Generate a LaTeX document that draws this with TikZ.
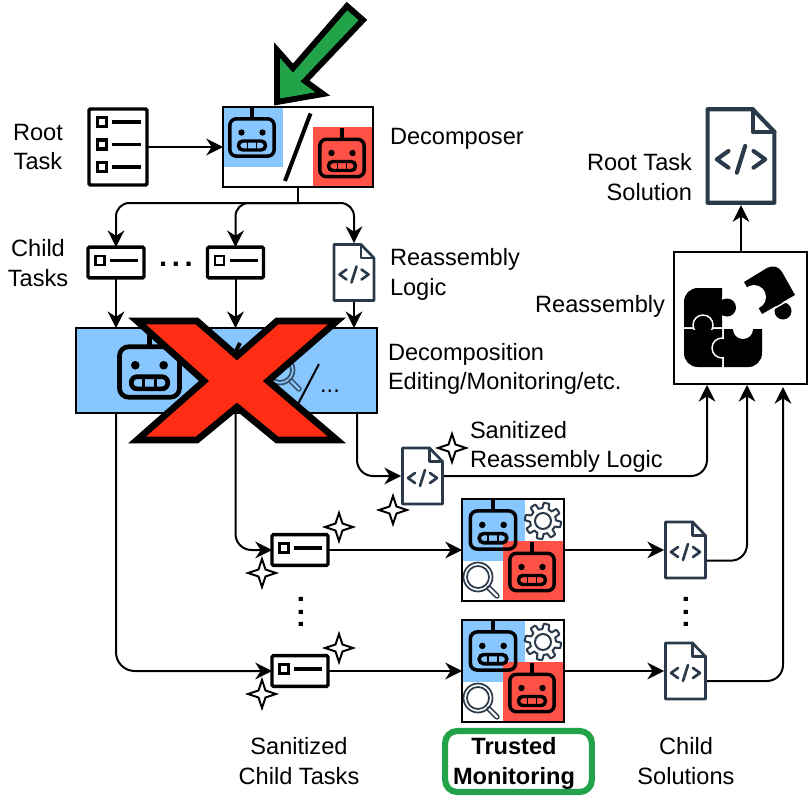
\documentclass[tikz,border=0pt]{standalone}
\usepackage{fontspec}
\setmainfont{Liberation Sans}
\usetikzlibrary{arrows.meta,calc}
\definecolor{bluebg}{HTML}{88C6FF}
\definecolor{redbg}{HTML}{FF5146}
\definecolor{slate}{HTML}{2B3A4A}
\definecolor{greenc}{HTML}{22A34A}
\definecolor{xred}{HTML}{FF2D14}
\tikzset{
  arr/.style={line width=1.5pt,-{Stealth[length=12.5pt,width=12.5pt,inset=4pt]},rounded corners=10pt},
  plain/.style={line width=1.5pt},
  txt/.style={font=\fontsize{17.7}{22}\selectfont,inner sep=0pt,outer sep=0pt},
  framebox/.style={draw=black,line width=1.6pt,inner sep=0pt,outer sep=0pt,rectangle},
  hollow/.style={rectangle,inner sep=0pt,outer sep=0pt},
  taskbox/.style={draw=black,line width=2.6pt,rounded corners=1pt,fill=white,inner sep=0pt,outer sep=0pt,rectangle,minimum width=42pt,minimum height=23pt},
  slashline/.style={line width=3pt,black},
  sparkle/.style={fill=white,draw=black,line width=1.5pt,miter limit=20},
  dotstxt/.style={font=\fontsize{22}{22}\selectfont\bfseries,inner sep=0pt,outer sep=0pt}
}
% robot: centre x, y, scale
\newcommand{\robotic}[3]{%
\begin{scope}[shift={(#1,#2)},scale=#3]
\pgfmathsetmacro{\lw}{2.6*#3}
\draw[black,line width=\lw pt,rounded corners=5pt*#3] (-22.2,-18.7) rectangle (22.2,18.7);
\draw[black,line width=\lw pt] (0,-19) -- (0,-30);
\fill[black] (-10.5,-5) circle (3.2) (10.5,-5) circle (3.2);
\draw[black,line width=\lw pt,rounded corners=3.2pt*#3] (-13.5,3.5) rectangle (13.5,12.5);
\draw[black,line width=0.55*\lw pt] (-4.5,3.5) -- (-4.5,12.5) (4.5,3.5) -- (4.5,12.5);
\end{scope}}
% code document: name, centre x, y, scale, stroke(pt)
\newcommand{\docicon}[5]{%
\node[hollow,minimum width=#4*32.2pt,minimum height=#4*44.2pt] (#1) at (#2,#3) {};
\begin{scope}[shift={(#2,#3)},scale=#4,line join=round,line cap=round]
\draw[slate,line width=#5 pt,fill=white] (-20,-28) -- (7,-28) -- (20,-14.5) -- (20,28) -- (-20,28) -- cycle;
\draw[slate,line width=#5 pt] (7,-28) -- (7,-14.5) -- (20,-14.5);
\draw[slate,line width=#5 pt] (-7.5,-3) -- (-14.5,2) -- (-7.5,7) (7.5,-3) -- (14.5,2) -- (7.5,7) (2.5,-6) -- (-2.5,10);
\end{scope}}
% small task card
\newcommand{\taskicon}[3]{%
\node[taskbox] (#1) at (#2,#3) {};
\begin{scope}[shift={(#2,#3)}]
\draw[black,line width=2.2pt] (-20.5,-6.5) rectangle (-11.5,2.5);
\draw[black,line width=2.6pt] (-6,-2) -- (22,-2);
\end{scope}}
% four pointed star
\newcommand{\starry}[2]{%
\draw[sparkle,shift={(#1,#2)}] (0,-14) -- (3.5,-3.5) -- (14,0) -- (3.5,3.5) -- (0,14) -- (-3.5,3.5) -- (-14,0) -- (-3.5,-3.5) -- cycle;}
% magnifier
\newcommand{\lens}[4]{%
\begin{scope}[shift={(#1,#2)}]
\draw[#3,line width=4pt,line cap=round] (11,11) -- (19,19);
\draw[#4,line width=1.8pt,line cap=round] (11,11) -- (19,19);
\draw[#3,line width=1.3pt] (0,0) circle (14.5) (0,0) circle (11);
\end{scope}}
% monitor panel
\newcommand{\monitorpanel}[3]{%
\begin{scope}[shift={(#2,#3)}]
\fill[bluebg] (-50,-51) rectangle (12,11);
\fill[redbg] (-10,-9) rectangle (51,51);
\draw[slate,line width=1.5pt] plot[samples=193,domain=0:360] ({30+(15.5+2.6*min(1,max(-1,3*sin(8*\x))))*cos(\x)},{-29+(15.5+2.6*min(1,max(-1,3*sin(8*\x))))*sin(\x)}) -- cycle;
\draw[slate,line width=1.5pt] (30,-29) circle (8);
\lens{-35}{27}{slate}{white}
\robotic{-20}{-20}{1.02}
\robotic{19}{22}{1}
\end{scope}
\node[framebox,minimum width=76.5pt,minimum height=76.5pt] (#1) at (#2,#3) {};}
\begin{document}
\begin{tikzpicture}[x=0.75pt,y=-0.75pt]
\useasboundingbox (0,0) rectangle (808,796);
\fill[white] (0,0) rectangle (808,796);

% root list
\node[draw=black,line width=2.6pt,rounded corners=1pt,inner sep=0pt,outer sep=0pt,rectangle,minimum width=43.5pt,minimum height=57pt] (root) at (118,147) {};
\foreach \yy in {122,144.5,167}{
  \draw[black,line width=2.3pt] (97.5,\yy-4.5) rectangle (106.5,\yy+4.5);
  \draw[black,line width=2.6pt] (112,\yy) -- (141,\yy);
}

% decomposer
\fill[bluebg] (223,107) rectangle (283,167);
\fill[redbg] (313,127) rectangle (373,187);
\robotic{252}{137.5}{1}
\robotic{342}{158}{1}
\draw[slashline] (310.5,113.5) -- (285,181);
\node[framebox,minimum width=112.5pt,minimum height=60pt] (dec) at (298,147) {};

% child tasks
\taskicon{t1}{116}{262.5}
\taskicon{t2}{235.5}{262.5}
\docicon{logic}{354}{272.5}{1}{2}

% decomposition editing box
\node[rectangle,fill=bluebg,inner sep=0pt,outer sep=0pt,minimum width=226pt,minimum height=63.5pt] (mboxfill) at (226.5,370.5) {};
\robotic{149.5}{372}{1.35}
\draw[slashline] (240,343) -- (236,351);
\lens{280}{370}{slate!85!bluebg}{bluebg}
\draw[black,line width=1.5pt] (319,364) -- (298,404);
\node[txt,anchor=base] (mdots) at (330,392) {...};
\node[framebox,line width=1.9pt,minimum width=226pt,minimum height=63.5pt] (mbox) at (226.5,370.5) {};

% sanitized items
\docicon{sdoc}{422.5}{476}{1}{2}
\taskicon{s1}{300}{550}
\taskicon{s2}{300}{671}
\monitorpanel{mon1}{513}{550}
\monitorpanel{mon2}{513}{671}
\docicon{cdoc1}{685.5}{550}{1}{2}
\docicon{cdoc2}{685.5}{671}{1}{2}

% reassembly box
\node[framebox,line width=1.9pt,minimum width=99.5pt,minimum height=99pt] (reass) at (740.5,318) {};
\fill[black] (684,327) -- (684,302) .. controls (684,294) and (690,288) .. (698,288) -- (722,288) -- (722,327) -- cycle;
\fill[black] (727,307.5) circle (9);
\fill[black] (684,329) -- (722,329) -- (722,367) -- (698,367) .. controls (690,367) and (684,361) .. (684,353) -- cycle;
\fill[black] (724,329) -- (762,329) -- (762,353) .. controls (762,361) and (756,367) .. (748,367) -- (724,367) -- cycle;
\fill[white] (743,329) circle (10);
\begin{scope}
\clip (690,310) rectangle (716,329.5);
\filldraw[black,draw=white,line width=1.1pt] (703,325) circle (10);
\end{scope}
\begin{scope}
\clip (708,335) rectangle (724,361);
\filldraw[black,draw=white,line width=1.1pt] (722,348) circle (10);
\end{scope}
\fill[black] (783,311) circle (8.5);
\draw[white,line width=1.1pt] (795,296.5) -- (762,315.5);
\fill[black] (744,282) -- (767,268) .. controls (773,265) and (778,266) .. (782,272) -- (795,295) -- (762,314) -- cycle;
\fill[white] (754,297) circle (12);

\docicon{rdoc}{741}{156}{1.67}{3.1}

% connectors
\draw[arr] (root.east) -- (dec.west);
\draw[plain] (dec.south) -- ++(0,16) coordinate (fork);
\draw[arr] (fork) -| (t1.north);
\draw[arr] (fork) -| (t2.north);
\draw[arr] (fork) -| (logic.north);
\draw[arr] (t1.south) -- (t1.south |- mbox.north);
\draw[arr] (t2.south) -- (t2.south |- mbox.north);
\draw[arr] (logic.south) -- (logic.south |- mbox.north);
\coordinate (mout) at (357,413);
\draw[arr,rounded corners=14pt] (mbox.south -| t1.south) |- (s2.west);
\draw[arr,rounded corners=12pt] (mbox.south -| t2.south) |- (s1.west);
\draw[arr,rounded corners=12pt] (mout) |- (sdoc.west);
\draw[arr] (s1.east) -- (mon1.west);
\draw[arr] (s2.east) -- (mon2.west);
\draw[arr] (mon1.east) -- (cdoc1.west);
\draw[arr] (mon2.east) -- (cdoc2.west);
\coordinate (rin1) at (707,385);
\coordinate (rin2) at (747,385);
\coordinate (rin3) at (783,387);
\draw[arr,rounded corners=12pt] (sdoc.east) -| (rin1);
\draw[arr,rounded corners=12pt] ([yshift=-8pt]cdoc1.east) -| (rin2);
\draw[arr,rounded corners=12pt] ([yshift=-7.5pt]cdoc2.east) -| (rin3);
\draw[arr] (reass.north -| rdoc.south) -- (rdoc.south);

% sparkles
\starry{452}{448}
\starry{393}{510}
\starry{339}{527}
\starry{262}{573}
\starry{339}{648}
\starry{262}{694}

% dots
\node[dotstxt,anchor=base] (dots1) at (176,266) {.\kern3.5pt.\kern3.5pt.};
\node[dotstxt,anchor=base,rotate=90] (dots2) at (303.5,612) {.\kern3.5pt.\kern3.5pt.};
\node[dotstxt,anchor=base,rotate=90] (dots3) at (688,612) {.\kern3.5pt.\kern3.5pt.};

% labels
\node[txt,align=center] (l1) at (38,147) {Root\\Task};
\node[txt,anchor=west] (l2) at (390,139) {Decomposer};
\node[txt,align=center] (l3) at (38,263) {Child\\Tasks};
\node[txt,align=left,anchor=west] (l4) at (390,274.5) {Reassembly\\Logic};
\node[txt,align=left,anchor=west] (l5) at (388,369) {Decomposition\\Editing/Monitoring/etc.};
\node[txt,align=left,anchor=west] (l6) at (470,447) {Sanitized\\Reassembly Logic};
\node[txt,align=right,anchor=east] (l7) at (692,177) {Root Task\\Solution};
\node[txt,anchor=east] (l8) at (665,306) {Reassembly};
\node[txt,align=center] (l9) at (299,761) {Sanitized\\Child Tasks};
\node[txt,align=center] (l10) at (686,761) {Child\\Solutions};
\node[draw=greenc,line width=4.6pt,rounded corners=9pt,rectangle,minimum width=110pt,minimum height=45.75pt,inner sep=0pt] (tm) at (518.5,761.5) {};
\node[txt,align=center,font=\fontsize{17.7}{22.5}\selectfont\bfseries] (l11) at (514,763) {Trusted\\Monitoring};

% green arrow
\draw[black,fill=greenc,line width=4.4pt,miter limit=10] (277,102) -- (277,50) -- (293,68) -- (347,6) -- (363,20) -- (305,81) -- (323,94) -- cycle;

% red cross
\draw[black,fill=xred,line width=5pt,miter limit=10] (137,321) -- (197,321) -- (237,356) -- (277,321) -- (337,321) -- (268,381) -- (337,440) -- (277,440) -- (237,407) -- (197,440) -- (137,440) -- (204,381) -- cycle;
\end{tikzpicture}
\end{document}
